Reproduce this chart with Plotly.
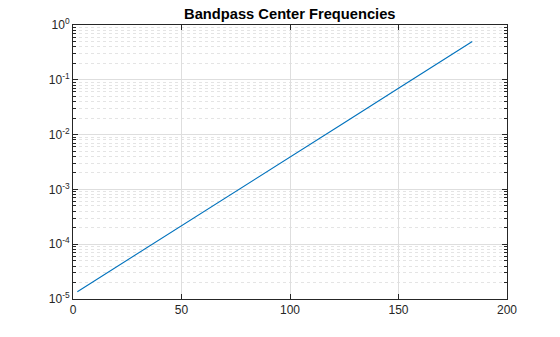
import plotly.graph_objects as go

# Values (band index vs. normalized center frequency)
band_index = [2, 25, 50, 75, 100, 125, 150, 175, 184]
center_freq = [1.36e-5, 5.1e-5, 2.17e-4, 9.2e-4, 3.9e-3, 1.65e-2, 7.0e-2, 0.297, 0.5]

x_ticks = [0, 50, 100, 150, 200]
y_tick_exps = [-5, -4, -3, -2, -1, 0]
y_tick_vals = [10.0 ** e for e in y_tick_exps]
y_tick_text = [f"10<sup>{e}</sup>" for e in y_tick_exps]
y_minor_vals = [m * 10.0 ** e for e in range(-5, 0) for m in range(2, 10)]

FONT = "Liberation Sans, Arial, Helvetica, sans-serif"
AX = "#262626"

fig = go.Figure()
fig.add_trace(go.Scatter(
    x=band_index, y=center_freq, mode="lines",
    line=dict(color="#0072BD", width=1.1),
    showlegend=False, hoverinfo="skip",
))

fig.update_layout(
    width=560, height=337,
    margin=dict(l=73, r=53, t=25, b=38),
    paper_bgcolor="white", plot_bgcolor="white",
    font=dict(family=FONT, size=12, color=AX),
    title=dict(
        text="<b>Bandpass Center Frequencies</b>",
        x=0.5175, xanchor="center",
        y=1 - 14 / 337, yanchor="middle",
        font=dict(family=FONT, size=14.7, color="black"),
    ),
)

fig.update_xaxes(
    range=[0, 200], tickvals=x_ticks, ticktext=[str(v) for v in x_ticks],
    showline=True, linecolor=AX, linewidth=1, mirror="ticks",
    ticks="inside", ticklen=5, tickcolor=AX,
    showgrid=True, gridcolor="#dedede", gridwidth=1,
    zeroline=False, tickfont=dict(size=12, color=AX),
)
fig.update_yaxes(
    type="log", range=[-5, 0],
    tickvals=y_tick_vals, ticktext=y_tick_text,
    showline=True, linecolor=AX, linewidth=1, mirror="ticks",
    ticks="inside", ticklen=5, tickcolor=AX,
    showgrid=True, gridcolor="#dedede", gridwidth=1,
    zeroline=False, tickfont=dict(size=12, color=AX),
    minor=dict(
        tickvals=y_minor_vals, ticks="inside", ticklen=3, tickcolor=AX,
        showgrid=True, gridcolor="#e4e4e4", griddash="dot", gridwidth=1,
    ),
)

fig.write_html("out.html")
